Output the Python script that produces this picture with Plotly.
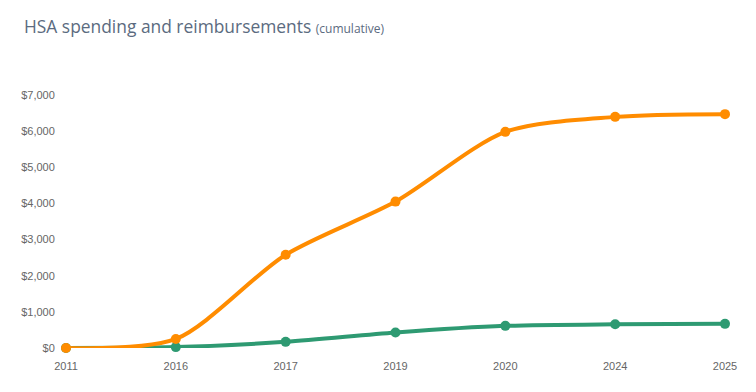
import plotly.graph_objects as go

years = ["2011", "2016", "2017", "2019", "2020", "2024", "2025"]
spending = [0, 250, 2580, 4050, 5980, 6395, 6470]
reimbursements = [0, 25, 170, 430, 613, 657, 668]
y_ticks = [0, 1000, 2000, 3000, 4000, 5000, 6000, 7000]
y_tick_labels = ["$0", "$1,000", "$2,000", "$3,000", "$4,000", "$5,000", "$6,000", "$7,000"]

ORANGE = "#FF8C00"
GREEN = "#2E9A72"

fig = go.Figure()
fig.add_trace(go.Scatter(
    x=years, y=reimbursements, mode="lines+markers", name="Reimbursements",
    line=dict(color=GREEN, width=4, shape="spline", smoothing=0.8),
    marker=dict(color=GREEN, size=10), cliponaxis=False,
))
fig.add_trace(go.Scatter(
    x=years, y=spending, mode="lines+markers", name="Spending",
    line=dict(color=ORANGE, width=4, shape="spline", smoothing=0.8),
    marker=dict(color=ORANGE, size=10), cliponaxis=False,
))

fig.update_layout(
    width=756, height=392,
    margin=dict(l=58, r=39, t=87, b=52),
    paper_bgcolor="white", plot_bgcolor="white",
    showlegend=False,
    title=dict(
        text="HSA spending and reimbursements <span style='font-size:12px'>(cumulative)</span>",
        x=0, xref="container", xanchor="left", y=1, yref="container", yanchor="top",
        pad=dict(l=16, t=13),
        font=dict(family="Open Sans", size=17.4, color="#5b6b80"),
    ),
    xaxis=dict(
        type="category", range=[0, 6], showgrid=False, zeroline=False, showline=False,
        tickfont=dict(family="Liberation Sans, Arial", size=11, color="#666666"),
        ticks="outside", ticklen=8, tickcolor="rgba(0,0,0,0)",
    ),
    yaxis=dict(
        range=[0, 7000], showgrid=False, zeroline=False, showline=False,
        tickvals=y_ticks, ticktext=y_tick_labels,
        tickfont=dict(family="Liberation Sans, Arial", size=11, color="#666666"),
        ticks="outside", ticklen=8, tickcolor="rgba(0,0,0,0)",
    ),
)

fig.write_html("out.html")
